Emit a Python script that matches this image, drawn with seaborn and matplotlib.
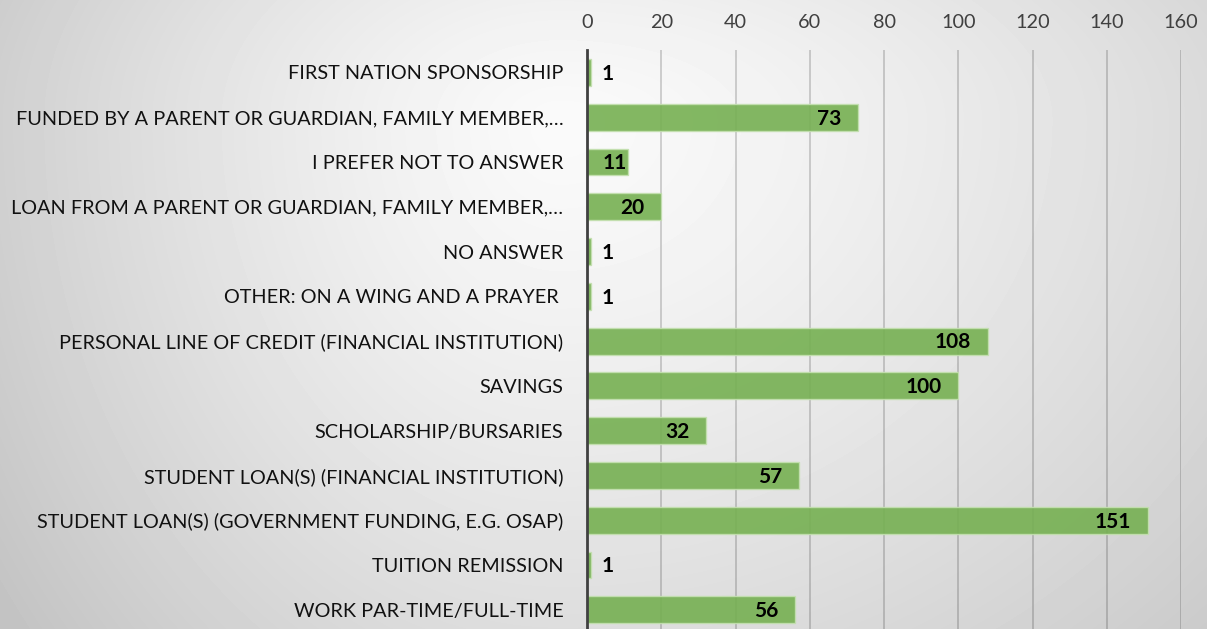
import numpy as np
import pandas as pd
import matplotlib
matplotlib.use("Agg")
import matplotlib.pyplot as plt
import seaborn as sns

categories = [
    "FIRST NATION SPONSORSHIP",
    "FUNDED BY A PARENT OR GUARDIAN, FAMILY MEMBER,…",
    "I PREFER NOT TO ANSWER",
    "LOAN FROM A PARENT OR GUARDIAN, FAMILY MEMBER,…",
    "NO ANSWER",
    "OTHER: ON A WING AND A PRAYER ",
    "PERSONAL LINE OF CREDIT (FINANCIAL INSTITUTION)",
    "SAVINGS",
    "SCHOLARSHIP/BURSARIES",
    "STUDENT LOAN(S) (FINANCIAL INSTITUTION)",
    "STUDENT LOAN(S) (GOVERNMENT FUNDING, E.G. OSAP)",
    "TUITION REMISSION",
    "WORK PAR-TIME/FULL-TIME",
]
counts = [1, 73, 11, 20, 1, 1, 108, 100, 32, 57, 151, 1, 56]
x_ticks = [0, 20, 40, 60, 80, 100, 120, 140, 160]

sns.set_theme(style="white")
FAM = ["Lato", "Liberation Sans", "DejaVu Sans"]
plt.rcParams["font.family"] = FAM

W, H = 1207, 629
fig = plt.figure(figsize=(W / 100, H / 100), dpi=100)

# background gradient
bg = fig.add_axes([0, 0, 1, 1], zorder=0)
yy, xx = np.mgrid[0:H, 0:W].astype(float)
cx, cy = 560.0, 120.0
dx = xx - cx
dy = yy - cy
rx = np.where(dx < 0, 620.0, 900.0)
ry = np.where(dy < 0, 400.0, 750.0)
dist = np.sqrt((dx / rx) ** 2 + (dy / ry) ** 2)
val = np.clip(250 - 48 * dist ** 1.3, 196, 255) / 255.0
bg.imshow(val, cmap="gray", vmin=0, vmax=1, aspect="auto", interpolation="bilinear")
bg.axis("off")

ax = fig.add_axes([587 / W, 0, (1181 - 587) / W, 1 - 50 / H], zorder=1)
ax.set_facecolor("none")

df = pd.DataFrame({"category": categories, "count": counts})
sns.barplot(data=df, x="count", y="category", orient="h", color="#76b052",
            saturation=1, width=0.6, edgecolor="#c4e0b0", linewidth=1.0,
            alpha=0.9, ax=ax, zorder=2)

ax.set_xlim(0, 160)
ax.set_ylim(12.43, -0.5)
ax.set_xticks(x_ticks)
ax.xaxis.tick_top()
ax.tick_params(axis="x", length=0, pad=14, labelsize=15, labelcolor="#404040")
ax.tick_params(axis="y", length=0, pad=17, labelsize=15, labelcolor="#111111")
for lab in ax.get_xticklabels() + ax.get_yticklabels():
    lab.set_family(FAM)
ax.set_xlabel("")
ax.set_ylabel("")
ax.grid(axis="x", color="#000000", alpha=0.18, linewidth=1.3, zorder=0)
ax.set_axisbelow(True)
for s in ["top", "right", "bottom"]:
    ax.spines[s].set_visible(False)
ax.spines["left"].set_color("#404040")
ax.spines["left"].set_linewidth(2.0)
ax.spines["left"].set_zorder(5)

# fit category label size so the longest label spans ~552 px
fig.canvas.draw()
r = fig.canvas.get_renderer()
maxw = max(l.get_window_extent(r).width for l in ax.get_yticklabels())
ysize = 15 * 552.0 / maxw
ax.tick_params(axis="y", labelsize=ysize)
ax.tick_params(axis="x", labelsize=min(ysize, 16))

anns = []
for p, v in zip(ax.patches, counts):
    yc = p.get_y() + p.get_height() / 2
    end = p.get_x() + p.get_width()
    if v < 5:
        a = ax.annotate(str(v), (end, yc), xytext=(8, -1), textcoords="offset points",
                        ha="left", va="center", fontsize=15, fontweight="bold",
                        color="#000000", family=FAM, zorder=6)
    else:
        a = ax.annotate(str(v), (end, yc), xytext=(-12, -1), textcoords="offset points",
                        ha="right", va="center", fontsize=15, fontweight="bold",
                        color="#000000", family=FAM, zorder=6)
        anns.append((a, yc))

# keep inside-end labels clear of the axis line (as in the reference)
fig.canvas.draw()
r = fig.canvas.get_renderer()
x0_px = ax.transData.transform((0, 0))[0]
for a, yc in anns:
    ext = a.get_window_extent(r)
    if ext.x0 < x0_px + 16:
        a.xy = (0, yc)
        a.set_ha("left")
        a.set_position((11.5, -1))

fig.savefig("out.png", dpi=100)
